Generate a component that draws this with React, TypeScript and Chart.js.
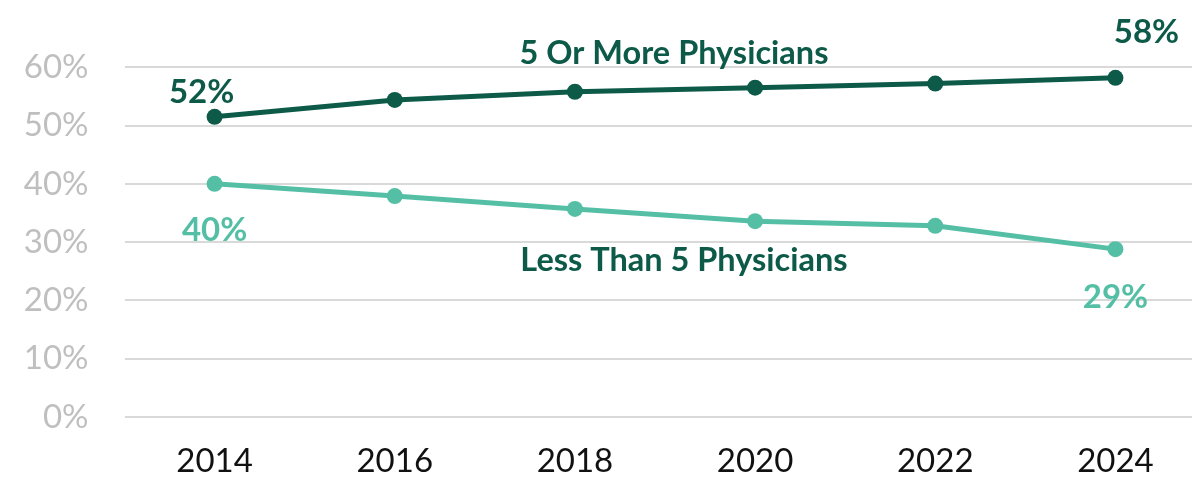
import React, { useEffect, useRef } from "react";
import { Chart, registerables } from "chart.js";

Chart.register(...registerables);

const years = [2014, 2016, 2018, 2020, 2022, 2024];
const fiveOrMore = [51.5, 54.4, 55.8, 56.5, 57.2, 58.2];
const lessThanFive = [40.0, 37.9, 35.7, 33.6, 32.8, 28.8];
const yTicks = [0, 10, 20, 30, 40, 50, 60];
const seriesNames = ["5 Or More Physicians", "Less Than 5 Physicians"];

const DARK = "#0d5a49";
const LIGHT = "#55bfa6";
const FONT = "Lato, 'Noto Sans', sans-serif";

// data labels: [datasetIndex, pointIndex, dx, dy]
const pointLabels: [number, number, number, number][] = [
  [0, 0, -13, -24],
  [0, 5, 31, -45],
  [1, 0, 0, 46],
  [1, 5, 0, 48],
];

const labelPlugin = {
  id: "labels",
  afterDatasetsDraw(chart: any) {
    const ctx = chart.ctx;
    const xs = chart.scales.x;
    const ys = chart.scales.y;
    ctx.save();
    ctx.textAlign = "center";
    ctx.textBaseline = "middle";
    ctx.font = `bold 33px ${FONT}`;
    for (const [di, pi, dx, dy] of pointLabels) {
      const ds = chart.data.datasets[di];
      const v = (ds.data[pi] as any).y;
      const px = xs.getPixelForValue(years[pi]);
      const py = ys.getPixelForValue(v);
      ctx.fillStyle = ds.borderColor;
      ctx.fillText(Math.round(v) + "%", px + dx, py + dy);
    }
    ctx.font = `bold 32.5px ${FONT}`;
    ctx.fillStyle = DARK;
    ctx.fillText(seriesNames[0], xs.getPixelForValue(2019.1), ys.getPixelForValue(62.4));
    ctx.fillText(seriesNames[1], xs.getPixelForValue(2019.21), ys.getPixelForValue(26.8));
    ctx.restore();
  },
};

export default function App() {
  const ref = useRef<HTMLCanvasElement>(null);
  useEffect(() => {
    const chart = new Chart(ref.current!, {
      type: "line",
      data: {
        datasets: [
          {
            label: seriesNames[0],
            data: years.map((x, i) => ({ x, y: fiveOrMore[i] })),
            borderColor: DARK,
            backgroundColor: DARK,
            borderWidth: 5,
            pointRadius: 8,
            pointHoverRadius: 8,
            pointBorderWidth: 0,
          },
          {
            label: seriesNames[1],
            data: years.map((x, i) => ({ x, y: lessThanFive[i] })),
            borderColor: LIGHT,
            backgroundColor: LIGHT,
            borderWidth: 5,
            pointRadius: 8,
            pointHoverRadius: 8,
            pointBorderWidth: 0,
          },
        ],
      },
      options: {
        responsive: false,
        animation: false,
        layout: { padding: { top: 67.3, right: 0, bottom: 0, left: 0 } },
        plugins: { legend: { display: false }, tooltip: { enabled: false } },
        scales: {
          x: {
            type: "linear",
            min: 2013,
            max: 2024.85,
            grid: { display: false, drawTicks: false },
            border: { display: false },
            afterBuildTicks: (s: any) => {
              s.ticks = years.map((v) => ({ value: v }));
            },
            afterFit: (s: any) => {
              s.height = 503 - 416.7 - 0.3;
            },
            ticks: {
              color: "#111111",
              font: { family: FONT, size: 33 },
              padding: 25,
              maxRotation: 0,
              autoSkip: false,
              callback: (v: any) => String(v),
            },
          },
          y: {
            min: 0,
            max: 60,
            afterBuildTicks: (s: any) => {
              s.ticks = yTicks.map((v) => ({ value: v }));
            },
            afterFit: (s: any) => {
              s.width = 124.5;
            },
            grid: { color: "#d9d9d9", lineWidth: 2, drawTicks: false },
            border: { display: false },
            ticks: {
              color: "#bfbfbf",
              font: { family: FONT, size: 33 },
              padding: 36,
              callback: (v: any) => v + "%",
            },
          },
        },
      },
      plugins: [labelPlugin],
    } as any);
    return () => chart.destroy();
  }, []);
  return (
    <div style={{ position: "fixed", left: 0, top: 0, width: 1200, height: 503, background: "#fff" }}>
      <canvas ref={ref} width={1200} height={503} style={{ width: 1200, height: 503 }} />
    </div>
  );
}
